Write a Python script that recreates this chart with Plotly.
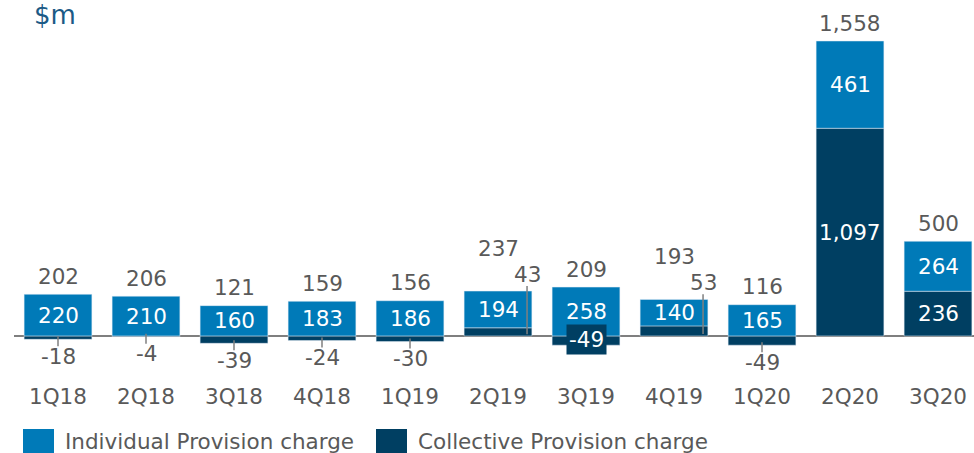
import plotly.graph_objects as go

quarters = ["1Q18", "2Q18", "3Q18", "4Q18", "1Q19", "2Q19", "3Q19", "4Q19", "1Q20", "2Q20", "3Q20"]
individual = [220, 210, 160, 183, 186, 194, 258, 140, 165, 461, 264]
collective = [-18, -4, -39, -24, -30, 43, -49, 53, -49, 1097, 236]
totals = [202, 206, 121, 159, 156, 237, 209, 193, 116, 1558, 500]

BLUE = "#007AB8"
NAVY = "#003F62"
GREY = "#595959"
FONT = "DejaVu Sans"
FS = 21.5
x = list(range(len(quarters)))

fig = go.Figure()

# collective first so small positive values sit under the individual part
fig.add_trace(go.Bar(x=x, y=collective, name="Collective Provision charge",
                     marker_color=NAVY, width=0.77, showlegend=False))
fig.add_trace(go.Bar(x=x, y=individual, name="Individual Provision charge",
                     marker_color=BLUE, width=0.77, showlegend=False))

ann = []
shapes = []
for i in x:
    ind, col, tot = individual[i], collective[i], totals[i]
    base = max(col, 0)
    top = base + ind
    # individual label in the middle of its block
    ann.append(dict(x=i, y=base + ind / 2, text=str(ind), showarrow=False,
                    font=dict(color="white", size=FS)))
    small_pos = 0 < col < 100
    # total above the bar
    ann.append(dict(x=i, y=top, text=f"{tot:,}", showarrow=False,
                    yshift=43 if small_pos else 18, font=dict(color=GREY, size=FS)))
    if col >= 100:
        ann.append(dict(x=i, y=col / 2, text=f"{col:,}", showarrow=False,
                        font=dict(color="white", size=FS)))
    elif small_pos:
        ann.append(dict(x=i + 0.33, y=top, text=str(col), showarrow=False,
                        yshift=17, font=dict(color=GREY, size=FS)))
        shapes.append(dict(type="line", x0=i + 0.33, x1=i + 0.33, y0=col * 0.2, y1=tot + 27,
                           line=dict(color="#7f7f7f", width=1.5)))
    elif quarters[i] == "3Q19":
        ann.append(dict(x=i, y=col, text=str(col), showarrow=False, yshift=6,
                        bgcolor=NAVY, borderpad=2, font=dict(color="white", size=FS)))
    else:
        ann.append(dict(x=i, y=col, text=str(col), showarrow=False, yshift=-17,
                        font=dict(color=GREY, size=FS)))
        shapes.append(dict(type="line", xref="x", yref="y", ysizemode="pixel", yanchor=col,
                           x0=i, x1=i, y0=3, y1=-7, line=dict(color="#7f7f7f", width=1.5)))

# unit label
ann.append(dict(xref="paper", yref="paper", x=0.019, y=(370 - 15) / 350, xanchor="left",
                yanchor="middle", text="$m", showarrow=False,
                font=dict(color="#1B5A86", size=26)))

# legend drawn by hand (bigger swatches than plotly's)
legend_items = [("Individual Provision charge", BLUE, 23), ("Collective Provision charge", NAVY, 376)]
for label, color, px in legend_items:
    shapes.append(dict(type="rect", xref="paper", yref="paper",
                       x0=(px - 14) / 960, x1=(px + 31 - 14) / 960,
                       y0=(370 - 429) / 350, y1=(370 - 455) / 350,
                       fillcolor=color, line=dict(width=0)))
    ann.append(dict(xref="paper", yref="paper", x=(px + 40 - 14) / 960, y=(370 - 441) / 350,
                    xanchor="left", yanchor="middle", text=label, showarrow=False,
                    font=dict(color=GREY, size=FS)))

fig.update_layout(
    barmode="relative",
    width=974, height=453,
    margin=dict(l=14, r=0, t=20, b=83),
    plot_bgcolor="white", paper_bgcolor="white",
    font=dict(family=FONT, color=GREY, size=FS),
    annotations=ann, shapes=shapes,
    xaxis=dict(range=[-0.5, 10.409], tickvals=x, ticktext=quarters, showgrid=False,
               ticks="", zeroline=False, showline=False, ticklabelstandoff=11,
               tickfont=dict(size=FS, color=GREY)),
    yaxis=dict(range=[-180, 1669], visible=True, showticklabels=False, showgrid=False,
               zeroline=True, zerolinecolor="#7f7f7f", zerolinewidth=2, ticks=""),
)

# page body has a default 8px margin; drop it so the figure fills the window
fig.write_html("out.html", config={"displayModeBar": False},
               post_script="document.body.style.margin='0';")
